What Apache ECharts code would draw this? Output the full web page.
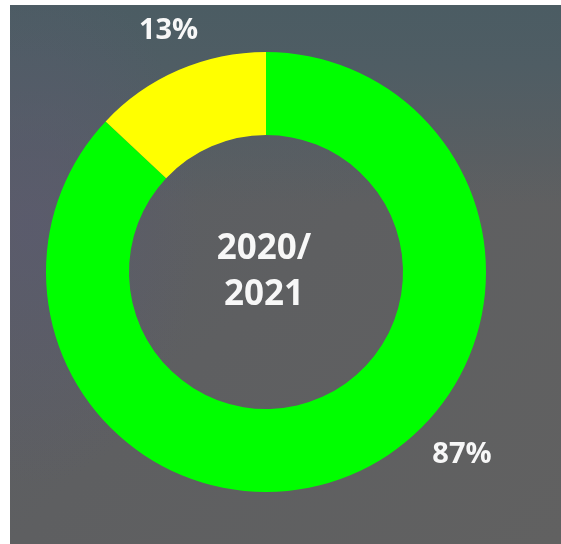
<!DOCTYPE html>
<html>
<head>
<meta charset="utf-8">
<script src="https://cdn.jsdelivr.net/npm/echarts@6/dist/echarts.min.js"></script>
<style>
  html, body { margin: 0; padding: 0; background: #ffffff; width: 561px; height: 544px; overflow: hidden; }
  #wrap {
    position: absolute; left: 10px; top: 5px; width: 551px; height: 539px;
    background:
      radial-gradient(ellipse 170px 260px at 20px 220px, rgba(90,90,112,0.7), rgba(90,90,112,0) 100%),
      linear-gradient(180deg, #4b5c63 0px, #4f5d64 60px, rgba(95,96,98,0) 200px),
      linear-gradient(135deg, #585d64 0%, #5e5f61 50%, #616161 100%);
  }
  #chart { position: absolute; left: 0; top: 0; width: 551px; height: 539px; }
</style>
</head>
<body>
<div id="wrap"><div id="chart"></div></div>
<script>
const categories = ['A', 'B'];
const values = [87, 13];
const labels = ['87%', '13%'];
const centerText = '2020/\n2021';

const colors = ['#00ff00', '#ffff00'];
const chart = echarts.init(document.getElementById('chart'), null, { renderer: 'canvas' });

const cx = 256, cy = 267, rOut = 220, rIn = 137;
// label placement per slice: angle (deg clockwise from top) and radius
const labelPlace = [ { ang: 133, r: 268 }, { ang: 338, r: 260 } ];

chart.setOption({
  backgroundColor: 'transparent',
  animation: false,
  graphic: [{
    type: 'text',
    x: cx - 2,
    y: cy,
    style: {
      text: centerText,
      fill: '#f7f7f7',
      font: 'bold 35px "Open Sans"',
      lineHeight: 46,
      align: 'center',
      verticalAlign: 'middle'
    }
  }],
  series: [{
    type: 'pie',
    center: [cx, cy],
    radius: [rIn, rOut],
    startAngle: 90,
    clockwise: true,
    silent: true,
    data: categories.map((c, i) => ({
      name: c, value: values[i],
      itemStyle: { color: colors[i] },
      label: { formatter: labels[i] }
    })),
    label: {
      show: true,
      position: 'outside',
      color: '#f7f7f7',
      fontFamily: 'Open Sans',
      fontWeight: 'bold',
      fontSize: 29
    },
    labelLine: { show: false },
    labelLayout: function (p) {
      const lp = labelPlace[p.dataIndex];
      const a = lp.ang * Math.PI / 180;
      return {
        x: cx + lp.r * Math.sin(a),
        y: cy - lp.r * Math.cos(a),
        align: 'center',
        verticalAlign: 'middle'
      };
    }
  }]
});
</script>
</body>
</html>
